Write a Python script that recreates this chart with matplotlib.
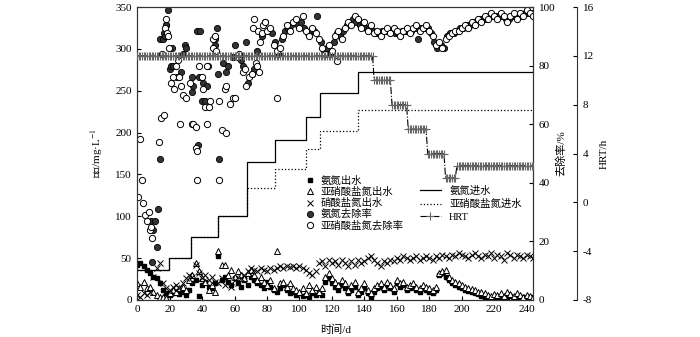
import matplotlib.pyplot as plt
import numpy as np

plt.rcParams['font.family'] = ['Liberation Serif', 'Noto Sans CJK SC']
plt.rcParams['mathtext.fontset'] = 'stix'
plt.rcParams['axes.unicode_minus'] = False

# effluent, sampled every 2 days (d0 ... d244)
eff_days = list(range(0, 245, 2))
nh4_eff = [42, 44, 40, 36, 32, 28, 26, 20, 12, 8,
           6, 8, 10, 7, 9, 6, 12, 20, 24, 5,
           18, 22, 16, 14, 20, 52, 24, 28, 22, 18,
           26, 20, 16, 24, 18, 28, 24, 20, 18, 14,
           22, 16, 12, 10, 14, 18, 12, 8, 10, 6,
           8, 5, 6, 4, 8, 6, 10, 6, 22, 26,
           20, 16, 12, 18, 14, 8, 12, 16, 6, 10,
           14, 8, 4, 10, 14, 16, 12, 18, 14, 10,
           20, 16, 18, 12, 14, 16, 12, 10, 14, 12,
           10, 8, 12, 30, 32, 28, 24, 20, 18, 16,
           14, 12, 11, 10, 8, 7, 5, 4, 3, 2,
           3, 2, 4, 2, 3, 5, 2, 3, 2, 4,
           2, 3, 2]
no2_eff = [20, 16, 22, 14, 16, 10, 6, 4, 3, 2,
           8, 12, 10, 14, 16, 12, 24, 30, 44, 34,
           26, 22, 12, 18, 10, 58, 42, 42, 30, 36,
           28, 34, 30, 26, 32, 36, 30, 24, 28, 22,
           18, 24, 14, 58, 20, 22, 16, 20, 14, 12,
           10, 14, 8, 18, 12, 16, 10, 14, 28, 32,
           26, 22, 18, 24, 20, 12, 18, 22, 10, 14,
           20, 12, 8, 14, 18, 20, 16, 22, 18, 14,
           24, 20, 22, 16, 18, 20, 16, 14, 18, 16,
           14, 12, 16, 32, 34, 36, 28, 24, 22, 20,
           18, 16, 14, 13, 12, 10, 9, 8, 6, 5,
           7, 6, 8, 5, 10, 7, 5, 8, 6, 4,
           6, 5, 4]
no3_eff = [6, 4, 8, 6, 10, 28, 38, 44, 20, 14,
           12, 16, 18, 14, 20, 26, 30, 28, 42, 32,
           26, 30, 24, 28, 22, 20, 26, 18, 22, 16,
           24, 20, 26, 30, 34, 38, 36, 34, 38, 36,
           34, 38, 36, 38, 40, 38, 40, 39, 40, 38,
           40, 38, 36, 32, 30, 34, 44, 46, 40, 48,
           44, 46, 42, 48, 44, 40, 46, 42, 48, 44,
           46, 50, 52, 48, 44, 40, 46, 44, 48, 46,
           50, 48, 52, 50, 48, 50, 52, 48, 50, 52,
           50, 48, 52, 50, 54, 52, 50, 54, 52, 56,
           54, 52, 50, 54, 56, 52, 50, 54, 52, 56,
           50, 54, 52, 48, 56, 54, 50, 54, 52, 50,
           54, 52, 50]

# influent steps
inf_days = [0, 19.5, 33, 49.5, 67.5, 85, 104, 112.5, 136, 244]
nh4_in = [36, 50, 75, 100, 165, 191, 219, 247, 273, 273]
no2_in = [36, 50, 75, 100, 134, 157, 180, 202, 227, 227]

# removal rates (%)
nh4_rem_days = [8.4, 9, 10, 11, 12, 13, 14, 14.2, 16, 16.5,
                17, 17.7, 18, 19, 20, 21, 21.5, 22, 24.4, 27,
                28, 29.5, 30, 33.6, 34, 34.5, 37, 37.2, 38, 39,
                39.8, 40.7, 41.8, 42.8, 43.5, 47.8, 48, 49, 50, 50.5,
                53, 55, 56, 59, 60, 63, 64, 65, 67, 68,
                70.6, 72, 74, 76.8, 78.8] + list(range(81, 244, 2))
nh4_rem = [27, 13, 24, 27, 18, 31, 48, 89, 89, 91,
           90, 94, 94, 99, 79, 80, 86, 80, 76, 78,
           84, 87, 86, 76, 71, 73, 92, 53, 76, 92,
           68, 74, 68, 73, 80, 87, 89, 93, 77, 48,
           81, 78, 80, 83, 87, 83, 82, 80, 88, 74,
           77, 79, 85, 90, 95,
           92, 91, 88, 84, 89, 92, 93, 94, 95, 94,
           95, 93, 91, 92, 92, 97, 88, 85, 86, 84,
           88, 91, 90, 92, 94, 95, 96, 95, 94, 94,
           93, 93, 92, 91, 91, 92, 92, 92, 92, 91,
           91, 92, 92, 92, 92, 93, 89, 93, 93, 93,
           91, 88, 86, 87, 86, 90, 91, 91, 92, 93,
           93, 94, 94, 95, 95, 96, 96, 96, 97, 97,
           97, 97, 97, 96, 96, 97, 97, 97, 97, 98,
           98, 98]
no2_rem_days = [0.8, 1.8, 2.9, 3.8, 5, 6, 7, 7.6, 9.2, 8.4,
                13.6, 14.6, 15, 16.6, 17.3, 17.7, 18.4, 19, 19.5, 21,
                22, 22.4, 24, 25, 26, 26.5, 27, 28, 30, 32.6,
                33.6, 34.5, 36, 36.5, 36.7, 37, 38, 40, 40.5, 41.8,
                42.9, 43, 44, 45, 46.6, 47, 48, 48.5, 50.4, 50.5,
                52, 54, 54.5, 55, 57, 59, 60, 62, 63, 65,
                66.7, 67, 69, 71, 71.5, 72, 73, 74, 74.5, 75,
                75.6, 77, 77.5, 79, 80, 86, 123] + list(range(82, 245, 2))
no2_rem = [35, 55, 41, 33, 29, 27, 30, 24, 21, 25,
           54, 62, 84, 63, 93, 96, 91, 90, 86, 74,
           76, 72, 80, 82, 76, 60, 73, 70, 69, 74,
           60, 60, 59, 52, 51, 41, 80, 76, 72, 66,
           60, 80, 66, 68, 86, 89, 90, 85, 68, 41,
           58, 72, 57, 73, 67, 69, 69, 83, 84, 78,
           79, 73, 76, 77, 93, 96, 81, 80, 92, 78,
           88, 91, 94, 95, 92, 69, 81.6,
           93, 87, 85, 86, 90, 94, 92, 95, 96, 93,
           97, 92, 90, 93, 91, 89, 86, 84, 87, 85,
           90, 92, 89, 93, 95, 94, 97, 96, 93, 95,
           92, 94, 91, 92, 90, 92, 93, 91, 93, 92,
           90, 92, 93, 91, 93, 94, 92, 93, 94, 92,
           90, 87, 88, 86, 89, 90, 91, 92, 92, 93,
           94, 93, 95, 94, 96, 95, 97, 96, 98, 97,
           96, 98, 97, 95, 97, 98, 96, 98, 97, 99,
           98, 97]

# HRT stages (h)
hrt_start = [0, 146, 157, 167, 179, 190, 197]
hrt_end = [145, 156, 166, 178, 189, 196, 244]
hrt_value = [12, 10, 8, 6, 4, 2, 3]

hrt_x, hrt_y = [], []
for s, e, v in zip(hrt_start, hrt_end, hrt_value):
    d = np.arange(s, e + 1)
    hrt_x.extend(d)
    hrt_y.extend([v] * len(d))

fig = plt.figure(figsize=(7, 3.37), dpi=100)
ax = fig.add_axes([0.196, 0.110, 0.5657, 0.869])
ax2 = ax.twinx()
ax3 = ax.twinx()

h_no2in, = ax.step(inf_days, no2_in, where='post', color='black', lw=0.9, ls=':')
h_nh4in, = ax.step(inf_days, nh4_in, where='post', color='black', lw=0.9)
h_nh4, = ax.plot(eff_days, nh4_eff, ls='none', marker='s', ms=3.5,
                 mfc='black', mec='black')
h_no2, = ax.plot(eff_days, no2_eff, ls='none', marker='^', ms=4.5,
                 mfc='white', mec='black', mew=0.7)
h_no3, = ax.plot(eff_days, no3_eff, ls='none', marker='x', ms=4.5,
                 mec='black', mew=0.7)

h_r1, = ax2.plot(nh4_rem_days, nh4_rem, ls='none', marker='o', ms=4.5,
                 mfc='#333333', mec='black', mew=0.6)
h_r2, = ax2.plot(no2_rem_days, no2_rem, ls='none', marker='o', ms=4.5,
                 mfc='white', mec='black', mew=0.7)

h_hrt, = ax3.plot(hrt_x, hrt_y, color='black', ls='-.', lw=0.8, marker='+',
                  ms=6, mec='#666666', mew=0.8)

ax.set_xlim(0, 244)
ax.set_ylim(0, 350)
ax2.set_ylim(0, 100)
ax3.set_ylim(-8, 16)
ax.set_xticks(range(0, 241, 20))
ax.set_yticks(range(0, 351, 50))
ax2.set_yticks(range(0, 101, 20))
ax3.set_yticks(range(-8, 17, 4))

for a in (ax, ax2, ax3):
    a.tick_params(direction='in', length=3, labelsize=8, pad=4, width=0.8)
    for sp in a.spines.values():
        sp.set_linewidth(0.8)
        sp.set_color('#333333')

ax3.spines['right'].set_position(('axes', 1.111))
for k in ('top', 'left', 'bottom'):
    ax3.spines[k].set_visible(False)

ax.set_ylabel('浓度/mg·L$^{-1}$', fontsize=8)
ax.yaxis.set_label_coords(-0.081, 0.5)
ax.set_xlabel('时间/d', fontsize=8)
ax.xaxis.set_label_coords(0.5, -0.085)
ax2.set_ylabel('去除率/%', fontsize=8)
ax2.yaxis.set_label_coords(1.056, 0.5)
ax3.set_ylabel('HRT/h', fontsize=8)
ax3.yaxis.set_label_coords(1.169, 0.5)

leg1 = ax3.legend([h_nh4, h_no2, h_no3, h_r1, h_r2],
                  ['氨氮出水', '亚硝酸盐氮出水', '硝酸盐氮出水', '氨氮去除率', '亚硝酸盐氮去除率'],
                  loc='upper left', bbox_to_anchor=(0.436, 0.478),
                  bbox_transform=fig.transFigure, frameon=False, fontsize=7.5,
                  handlelength=1.0, handletextpad=0.5, labelspacing=0.1,
                  borderpad=0, borderaxespad=0)
ax3.add_artist(leg1)
ax3.legend([h_nh4in, h_no2in, h_hrt], ['氨氮进水', '亚硝酸盐氮进水', 'HRT'],
           loc='upper left', bbox_to_anchor=(0.600, 0.448),
           bbox_transform=fig.transFigure, frameon=False, fontsize=7.5,
           handlelength=2.0, handletextpad=0.8, labelspacing=0.3,
           borderpad=0, borderaxespad=0)

fig.savefig('out.png', dpi=100)
